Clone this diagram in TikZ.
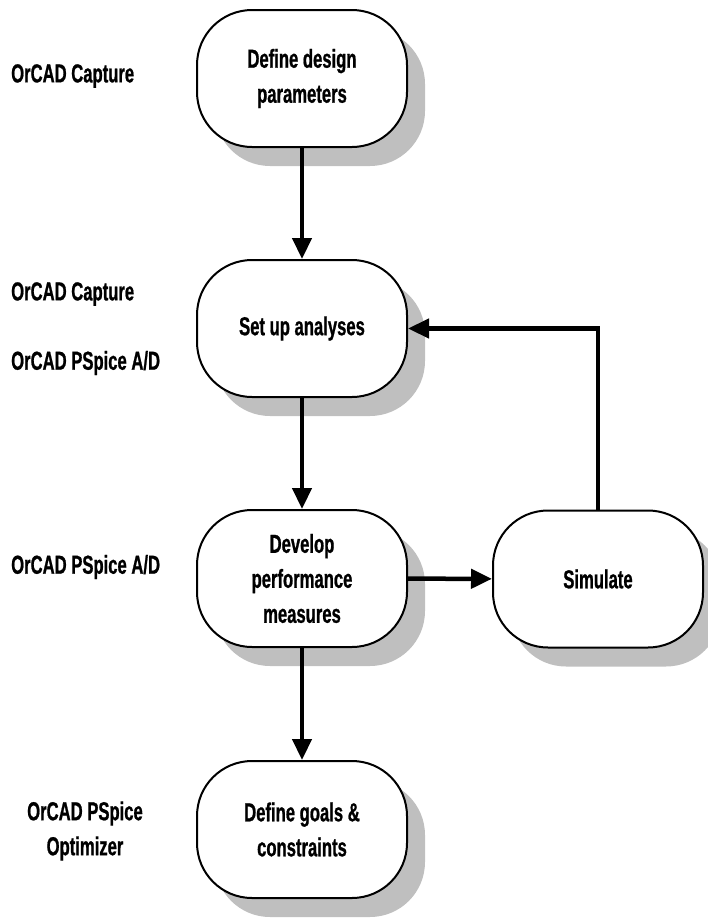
\documentclass[tikz,border=0pt]{standalone}
\usepackage{fontspec}
\setmainfont{Liberation Sans}[FakeStretch=0.64,FakeBold=0.8]
\usetikzlibrary{arrows.meta,shadows}
\begin{document}
\begin{tikzpicture}[x=1pt,y=-1pt,
  every node/.style={font=\fontsize{26}{35}\selectfont\bfseries},
  proc/.style={draw, line width=2pt, fill=white, rounded corners=55pt,
    minimum width=210pt, minimum height=137pt, inner sep=0pt, align=center,
    drop shadow={shadow xshift=18pt, shadow yshift=-19pt, fill=black!25, opacity=1, draw=none}},
  lbl/.style={anchor=west, inner sep=0pt},
  conn/.style={line width=4.5pt, -{Triangle[width=19pt,length=21pt]}}
]
\useasboundingbox (0,0) rectangle (708,918);
\node[proc] (n1) at (302,78.5) {Define design\\parameters};
\node[proc] (n2) at (302,328.5) {Set up analyses};
\node[proc] (n3) at (302,578.5) {Develop\\performance\\measures};
\node[proc] (n4) at (302,829.5) {Define goals \&\\constraints};
\node[proc] (sim) at (598,579) {Simulate};
\draw[conn] (n1) -- (n2);
\draw[conn] (n2) -- (n3);
\draw[conn] (n3) -- (n4);
\draw[conn] (n3) -- (sim);
\draw[conn] (sim.north) |- (n2.east);
\node[lbl] (l1) at (11,76) {OrCAD Capture};
\node[lbl] (l2) at (11,294) {OrCAD Capture};
\node[lbl] (l3) at (11,363) {OrCAD PSpice A/D};
\node[lbl] (l4) at (11,567) {OrCAD PSpice A/D};
\node[align=center, inner sep=0pt] (l5) at (85,831) {OrCAD PSpice\\Optimizer};
\end{tikzpicture}
\end{document}
